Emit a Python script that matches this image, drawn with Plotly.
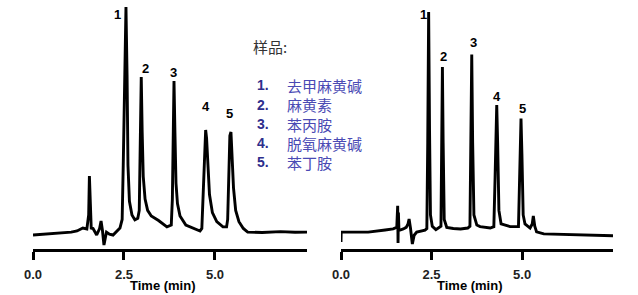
import plotly.graph_objects as go

# ---- data (time in min, signal in arbitrary units) ----
left_t = [0.00, 0.40, 0.82, 1.05, 1.21, 1.37, 1.48, 1.53, 1.55, 1.565, 1.575, 1.585, 1.60, 1.65,
          1.75, 1.83, 1.87, 1.91, 1.95, 1.99, 2.02, 2.10, 2.20, 2.39, 2.45, 2.48, 2.52, 2.555,
          2.585, 2.61, 2.65, 2.72, 2.80, 2.88, 2.92, 2.95, 2.975, 3.00, 3.03, 3.08, 3.15, 3.25,
          3.45, 3.68, 3.80, 3.83, 3.855, 3.875, 3.90, 3.93, 3.97, 4.04, 4.20, 4.40, 4.59, 4.64,
          4.68, 4.72, 4.745, 4.77, 4.80, 4.85, 4.93, 5.05, 5.22, 5.32, 5.35, 5.38, 5.41, 5.44,
          5.47, 5.51, 5.57, 5.66, 5.78, 5.90, 6.30, 6.80, 7.20, 7.53]
left_s = [-0.9, -0.5, 0.0, 0.4, 0.9, 2.2, 1.8, 8, 25.2, 13.7, 15.0, 8, 2.2, 2.0,
          -0.9, 2.0, 5.3, 1.0, -5.3, -2.0, 0.4, -0.5, -0.9, 2.2, 6, 30, 75, 100,
          70, 30, 14, 8, 5.8, 6.5, 10, 45, 69, 45, 25, 15, 10, 7.5,
          5.5, 2.7, 3.5, 15, 45, 67.3, 45, 22, 13, 7.5, 3.5, 2.2, 0.9, 2,
          18, 40, 45.6, 42, 30, 17, 9, 5, 2.7, 2.7, 6, 25, 43, 44.7,
          36, 20, 10, 5, 2, 0.4, 0.2, 0.6, 0.3, 0.4]

right_t = [0.00, 0.005, 0.40, 0.75, 1.22, 1.44, 1.54, 1.565, 1.575, 1.585, 1.60, 1.63, 1.72,
           1.80, 1.85, 1.88, 1.92, 1.97, 2.02, 2.09, 2.32, 2.37, 2.395, 2.42, 2.445, 2.47,
           2.52, 2.62, 2.76, 2.785, 2.80, 2.82, 2.85, 2.92, 3.10, 3.30, 3.50, 3.56, 3.59,
           3.61, 3.635, 3.67, 3.75, 3.84, 4.12, 4.22, 4.255, 4.28, 4.30, 4.325, 4.36, 4.42,
           4.67, 4.90, 4.93, 4.95, 4.97, 4.995, 5.03, 5.08, 5.22, 5.28, 5.31, 5.35, 5.40,
           5.60, 6.00, 6.40, 6.80, 7.20, 7.51]
right_s = [-4.0, 0.4, 0.4, 0.4, 1.3, 1.8, 2.5, 12, -4.4, 9, 1.3, 1.3, 1.8,
           2.5, 4, 6.2, 2, -4.9, -1, 0.4, 1.3, 2, 40, 97.8, 45, 8,
           3, 1.5, 3, 40, 73.5, 40, 6, 2.5, 2.0, 1.8, 2.2, 3, 40,
           79, 40, 8, 3.5, 2.8, 2.2, 2.8, 25, 45, 56.6, 40, 10, 4,
           2.8, 2.8, 20, 35, 50.7, 35, 8, 4, 2.2, 4, 7.5, 3, 0.5,
           -0.4, -0.6, -0.8, -1.0, -1.0, -1.2]

peak_labels = ["1", "2", "3", "4", "5"]
left_label_t = [2.31, 3.08, 3.87, 4.75, 5.41]
left_label_s = [96.9, 72.6, 71.2, 55.8, 53.1]
right_label_t = [2.27, 2.82, 3.65, 4.31, 5.00]
right_label_s = [96.5, 77.9, 84.5, 60.6, 55.3]

tick_vals = [0.0, 2.5, 5.0]
tick_text = ["0.0", "2.5", "5.0"]
axis_title = "Time (min)"

legend_title = "样品:"
legend_nums = ["1.", "2.", "3.", "4.", "5."]
legend_names = ["去甲麻黄碱", "麻黄素", "苯丙胺", "脱氧麻黄碱", "苯丁胺"]

# ---- figure ----
W, H = 638, 295
NARROW = "Liberation Sans Narrow, Arial Narrow, Liberation Sans, sans-serif"
CJK = "Noto Sans CJK SC, sans-serif"

fig = go.Figure()
fig.add_trace(go.Scatter(x=left_t, y=left_s, mode="lines",
                         line=dict(color="black", width=2.9), xaxis="x", yaxis="y",
                         hoverinfo="skip"))
fig.add_trace(go.Scatter(x=right_t, y=right_s, mode="lines",
                         line=dict(color="black", width=2.9), xaxis="x2", yaxis="y2",
                         hoverinfo="skip"))

xcommon = dict(showline=True, linecolor="black", linewidth=3, ticks="outside",
               ticklen=8, tickwidth=3, tickcolor="black", tickvals=tick_vals,
               ticktext=tick_text, showgrid=False, zeroline=False, automargin=False,
               ticklabelstandoff=3,
               tickfont=dict(family=NARROW, size=13, color="#222", weight="bold"))
ydom = [(H - 249) / H, 1.0]
ycommon = dict(domain=ydom, range=[-7.08, 103.1], visible=False, showgrid=False,
               zeroline=False, automargin=False)

fig.update_layout(
    width=W, height=H, margin=dict(l=0, r=0, t=0, b=0, pad=0, autoexpand=False),
    paper_bgcolor="white", plot_bgcolor="white", showlegend=False,
    xaxis=dict(domain=[33 / W, 307 / W], range=[0, 7.53], anchor="y", **xcommon),
    xaxis2=dict(domain=[341 / W, 613 / W], range=[0, 7.51], anchor="y2", **xcommon),
    yaxis=dict(anchor="x", **ycommon),
    yaxis2=dict(anchor="x2", **ycommon),
)

ann = []
lab_font = dict(family=NARROW, size=13, color="black", weight="bold")
for lab, t, s in zip(peak_labels, left_label_t, left_label_s):
    ann.append(dict(x=t, y=s, xref="x", yref="y", text=lab, showarrow=False,
                    font=lab_font, xanchor="center", yanchor="middle"))
for lab, t, s in zip(peak_labels, right_label_t, right_label_s):
    ann.append(dict(x=t, y=s, xref="x2", yref="y2", text=lab, showarrow=False,
                    font=lab_font, xanchor="center", yanchor="middle"))

ann.append(dict(x=3.57, y=1 - 285 / H, xref="x", yref="paper", text=axis_title,
                showarrow=False, font=lab_font, xanchor="center", yanchor="middle"))
ann.append(dict(x=3.56, y=1 - 285 / H, xref="x2", yref="paper", text=axis_title,
                showarrow=False, font=lab_font, xanchor="center", yanchor="middle"))

ann.append(dict(x=251 / W, y=1 - 47 / H, xref="paper", yref="paper", text=legend_title,
                showarrow=False, font=dict(family=CJK, size=15, color="#333"),
                xanchor="left", yanchor="middle"))
row_y = [85, 105, 124, 143, 162]
for num, name, py in zip(legend_nums, legend_names, row_y):
    ann.append(dict(x=255 / W, y=1 - py / H, xref="paper", yref="paper", text=num,
                    showarrow=False,
                    font=dict(family="Liberation Sans, Arial, sans-serif", size=14,
                              color="#2e2e8c", weight="bold"),
                    xanchor="left", yanchor="middle"))
    ann.append(dict(x=285 / W, y=1 - py / H, xref="paper", yref="paper", text=name,
                    showarrow=False, font=dict(family=CJK, size=15, color="#4a4ab4"),
                    xanchor="left", yanchor="middle"))

fig.update_layout(annotations=ann)
fig.write_html("out.html")
